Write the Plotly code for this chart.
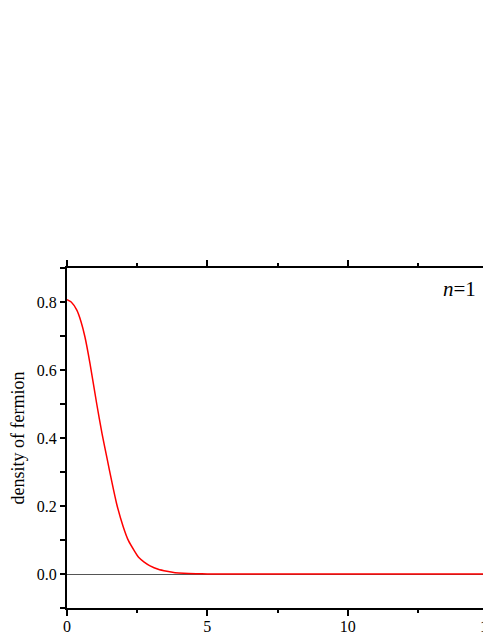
import plotly.graph_objects as go

r_values = [0.0, 0.15, 0.35, 0.5, 0.64, 0.82, 1.06, 1.25, 1.42, 1.6, 1.77, 2.0, 2.19, 2.4, 2.55, 2.75, 2.96, 3.25, 3.56, 3.85, 4.15, 4.6, 5.0, 6.0, 8.0, 10.0, 12.0, 15.0]
density = [0.807, 0.800, 0.776, 0.742, 0.697, 0.619, 0.500, 0.412, 0.343, 0.270, 0.206, 0.140, 0.098, 0.068, 0.049, 0.035, 0.024, 0.014, 0.008, 0.004, 0.002, 0.0007, 0.0002, 0.0, 0.0, 0.0, 0.0, 0.0]

label_font = dict(family="Liberation Serif, Times New Roman, serif", size=16, color="black")

fig = go.Figure()
fig.add_trace(go.Scatter(x=r_values, y=density, mode="lines",
                         line=dict(color="#ff0000", width=1.5, shape="spline", smoothing=0.5),
                         showlegend=False, hoverinfo="skip"))

fig.add_annotation(x=0.977, y=0.978, xref="paper", yref="paper", xanchor="right", yanchor="top",
                   text="<i>n</i>=1", showarrow=False,
                   font=dict(family="Liberation Serif, Times New Roman, serif", size=21, color="black"))

fig.update_xaxes(range=[0, 15], tickvals=[0, 5, 10, 15], ticktext=["0", "5", "10", "15"],
                 ticks="outside", ticklen=6, tickwidth=1.5, tickcolor="black", ticklabelstandoff=-3,
                 minor=dict(dtick=2.5, tick0=0, ticks="outside", ticklen=3, tickwidth=1.5, tickcolor="black"),
                 showline=True, linecolor="black", linewidth=2, mirror="ticks",
                 showgrid=False, zeroline=False, tickfont=label_font, automargin=False)
fig.update_yaxes(range=[-0.1, 0.9], tickvals=[0.0, 0.2, 0.4, 0.6, 0.8],
                 ticktext=["0.0", "0.2", "0.4", "0.6", "0.8"],
                 ticks="outside", ticklen=5, tickwidth=1.5, tickcolor="black",
                 minor=dict(dtick=0.1, tick0=0, ticks="outside", ticklen=5, tickwidth=1.5, tickcolor="black"),
                 showline=True, linecolor="black", linewidth=2, mirror="ticks",
                 showgrid=False, zeroline=True, zerolinecolor="#555555", zerolinewidth=1,
                 tickfont=label_font, automargin=False,
                 title=dict(text="density of fermion", standoff=12,
                            font=dict(family="Liberation Serif, Times New Roman, serif", size=18, color="black")))

fig.update_layout(width=491, height=635, plot_bgcolor="white", paper_bgcolor="white",
                  margin=dict(l=59, r=11, t=260, b=35))

fig.write_html("out.html")
